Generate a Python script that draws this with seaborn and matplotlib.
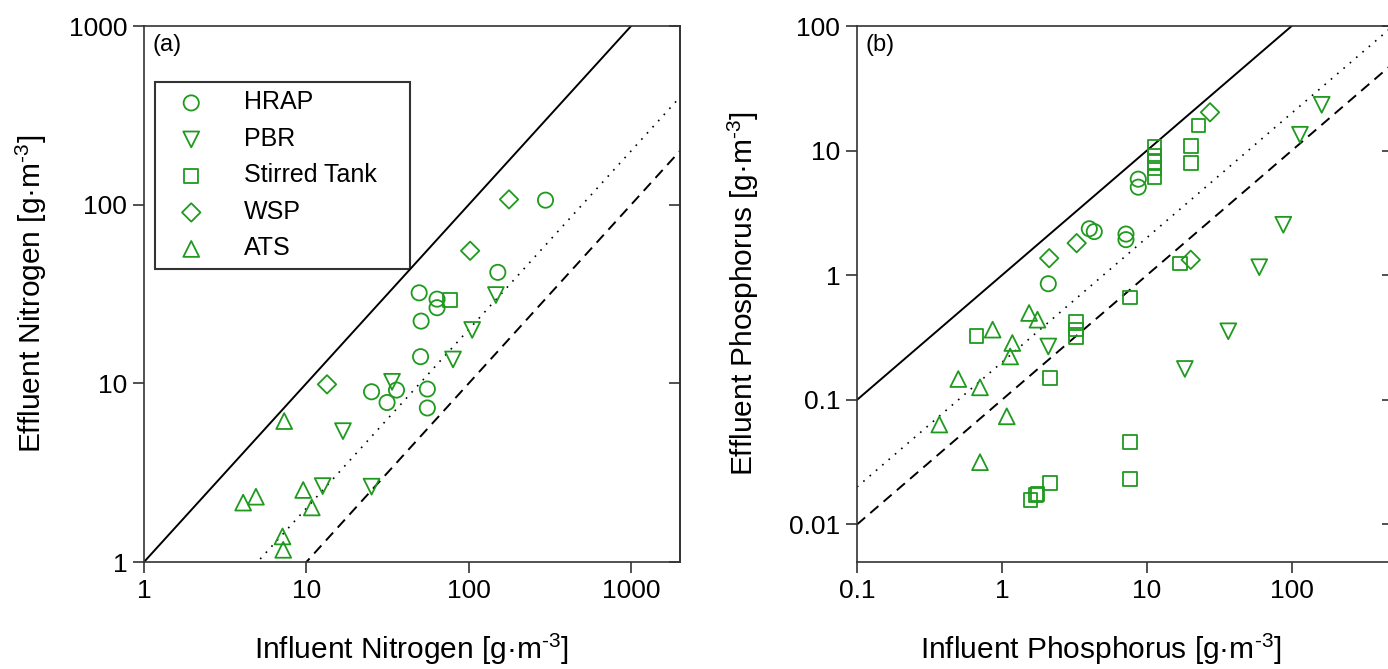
import numpy as np
import pandas as pd
import matplotlib
matplotlib.use("Agg")
import matplotlib.pyplot as plt
import seaborn as sns

sns.set_style("ticks")
plt.rcParams['font.family'] = ['Liberation Sans', 'DejaVu Sans']
plt.rcParams['mathtext.default'] = 'regular'
plt.rcParams['text.color'] = 'black'
plt.rcParams['axes.labelcolor'] = 'black'
plt.rcParams['xtick.labelcolor'] = 'black'
plt.rcParams['ytick.labelcolor'] = 'black'

systems = ["HRAP", "PBR", "Stirred Tank", "WSP", "ATS"]
markers = {"HRAP": "o", "PBR": "v", "Stirred Tank": "s", "WSP": "D", "ATS": "^"}
msizes = {"HRAP": 120, "PBR": 130, "Stirred Tank": 95, "WSP": 88, "ATS": 130}

# ---------------- Panel (a) Nitrogen ----------------
n_hrap_x = [49.5, 63.8, 63.8, 50.9, 50.5, 55.6, 55.6, 35.9, 31.4, 25.2, 151, 297]
n_hrap_y = [32.1, 29.6, 26.5, 22.3, 14.1, 9.29, 7.28, 9.17, 7.81, 8.97, 41.8, 106]
n_pbr_x = [16.8, 12.6, 25.2, 33.7, 80, 105, 147]
n_pbr_y = [5.4, 2.66, 2.64, 10.2, 13.6, 19.9, 31.2]
n_st_x = [76.4]
n_st_y = [29.3]
n_wsp_x = [177, 102, 13.4]
n_wsp_y = [107, 55.2, 9.87]
n_ats_x = [7.3, 4.08, 4.89, 9.56, 10.8, 7.13, 7.2]
n_ats_y = [6.15, 2.15, 2.32, 2.53, 2.02, 1.39, 1.17]

# ---------------- Panel (b) Phosphorus ----------------
p_hrap_x = [8.73, 8.73, 4.01, 4.34, 7.18, 7.18, 2.09]
p_hrap_y = [5.90, 5.09, 2.36, 2.24, 2.14, 1.93, 0.855]
p_pbr_x = [161, 114, 87.5, 59.7, 36.5, 18.3, 2.09]
p_pbr_y = [23.3, 13.4, 2.54, 1.16, 0.355, 0.177, 0.268]
p_st_x = [11.3, 11.3, 11.3, 11.3, 11.3, 22.7, 20.1, 20.1, 16.9, 7.66, 7.66, 7.66,
          0.67, 3.25, 3.25, 3.25, 2.15, 2.15, 1.72, 1.76, 1.58]
p_st_y = [10.7, 9.08, 8.13, 7.28, 6.17, 15.9, 10.9, 7.92, 1.24, 0.664, 0.0457, 0.0232,
          0.327, 0.427, 0.366, 0.320, 0.150, 0.0216, 0.0172, 0.0176, 0.0157]
p_wsp_x = [27.3, 20.1, 2.12, 3.28]
p_wsp_y = [20.3, 1.33, 1.37, 1.81]
p_ats_x = [1.54, 1.76, 0.863, 1.18, 1.14, 0.50, 0.706, 0.370, 1.08, 0.706]
p_ats_y = [0.498, 0.440, 0.366, 0.286, 0.223, 0.147, 0.126, 0.0634, 0.0738, 0.0316]

line_ratios = [1.0, 0.2, 0.1]
line_styles = ["-", (0, (1, 4)), (0, (5.5, 3.5))]
line_widths = [1.4, 1.2, 1.4]

n_ticks = [1, 10, 100, 1000]
n_ticklabels = ["1", "10", "100", "1000"]
p_xticks = [0.1, 1, 10, 100]
p_xticklabels = ["0.1", "1", "10", "100"]
p_yticks = [0.01, 0.1, 1, 10, 100]
p_yticklabels = ["0.01", "0.1", "1", "10", "100"]


def build(data):
    rows = []
    for name, (xs, ys) in data.items():
        for x, y in zip(xs, ys):
            rows.append({"System": name, "x": x, "y": y})
    return pd.DataFrame(rows)


df_n = build({"HRAP": (n_hrap_x, n_hrap_y), "PBR": (n_pbr_x, n_pbr_y),
              "Stirred Tank": (n_st_x, n_st_y), "WSP": (n_wsp_x, n_wsp_y),
              "ATS": (n_ats_x, n_ats_y)})
df_p = build({"HRAP": (p_hrap_x, p_hrap_y), "PBR": (p_pbr_x, p_pbr_y),
              "Stirred Tank": (p_st_x, p_st_y), "WSP": (p_wsp_x, p_wsp_y),
              "ATS": (p_ats_x, p_ats_y)})

green = "#1f9a1f"
W, H = 1388, 669
fig = plt.figure(figsize=(W / 100, H / 100), dpi=100)
axA = fig.add_axes([144 / W, (H - 562) / H, 536 / W, 536 / H])
axB = fig.add_axes([857 / W, (H - 562) / H, 536 / W, 536 / H])


def draw(ax, df, xlim, ylim):
    ax.set_xscale("log")
    ax.set_yscale("log")
    xx = np.array(xlim, dtype=float)
    for r, ls, lw in zip(line_ratios, line_styles, line_widths):
        ax.plot(xx, r * xx, color="black", linestyle=ls, linewidth=lw, zorder=1)
    for name in systems:
        sub = df[df["System"] == name]
        sns.scatterplot(data=sub, x="x", y="y", ax=ax, marker=markers[name],
                        s=msizes[name], facecolor="none", edgecolor=green,
                        linewidth=1.3, label=name, zorder=3)
    ax.set_xlim(*xlim)
    ax.set_ylim(*ylim)
    ax.minorticks_off()
    ax.tick_params(axis="both", which="major", direction="out", length=8,
                   width=1.2, labelsize=19, pad=4, color="#333333",
                   labelcolor="black")
    for sp in ax.spines.values():
        sp.set_linewidth(1.2)
        sp.set_color("#333333")
    sec = ax.secondary_yaxis("right")
    sec.set_yscale("log")
    sec.minorticks_off()
    sec.tick_params(direction="in", length=8, width=1.2, labelright=False, color="#333333")
    sec.spines["right"].set_linewidth(1.2)
    return sec


unit = "[g·m$^{‐3}$]"

secA = draw(axA, df_n, (1, 2000), (1, 1000))
axA.set_xticks(n_ticks, n_ticklabels)
axA.set_yticks(n_ticks, n_ticklabels)
secA.set_yticks(n_ticks)
axA.set_xlabel("Influent Nitrogen " + unit, fontsize=21.5)
axA.set_ylabel("Effluent Nitrogen " + unit, fontsize=21.5)
axA.xaxis.set_label_coords(0.5, -0.13)
axA.yaxis.set_label_coords(-0.178, 0.5)
axA.text(0.016, 0.965, "(a)", transform=axA.transAxes, fontsize=17, va="center", ha="left")

secB = draw(axB, df_p, (0.1, 500), (0.005, 100))
axB.set_xticks(p_xticks, p_xticklabels)
axB.set_yticks(p_yticks, p_yticklabels)
secB.set_yticks(p_yticks)
axB.set_xlabel("Influent Phosphorus " + unit, fontsize=21.5)
axB.set_ylabel("Effluent Phosphorus " + unit, fontsize=21.5)
axB.xaxis.set_label_coords(0.455, -0.13)
axB.yaxis.set_label_coords(-0.18, 0.5)
axB.text(0.016, 0.965, "(b)", transform=axB.transAxes, fontsize=17, va="center", ha="left")
if axB.get_legend() is not None:
    axB.get_legend().remove()

leg = axA.legend(loc="upper left", bbox_to_anchor=(0.0205, 0.5, 0.4758, 0.396),
                 mode="expand", borderaxespad=0,
                 fontsize=18, frameon=True, fancybox=False, edgecolor="black",
                 handletextpad=1.0, labelspacing=0.5, borderpad=0.35,
                 handlelength=2.2)
leg.get_frame().set_linewidth(1.5)
for t in leg.get_texts():
    t.set_color("black")

fig.savefig("out.png", dpi=100)
